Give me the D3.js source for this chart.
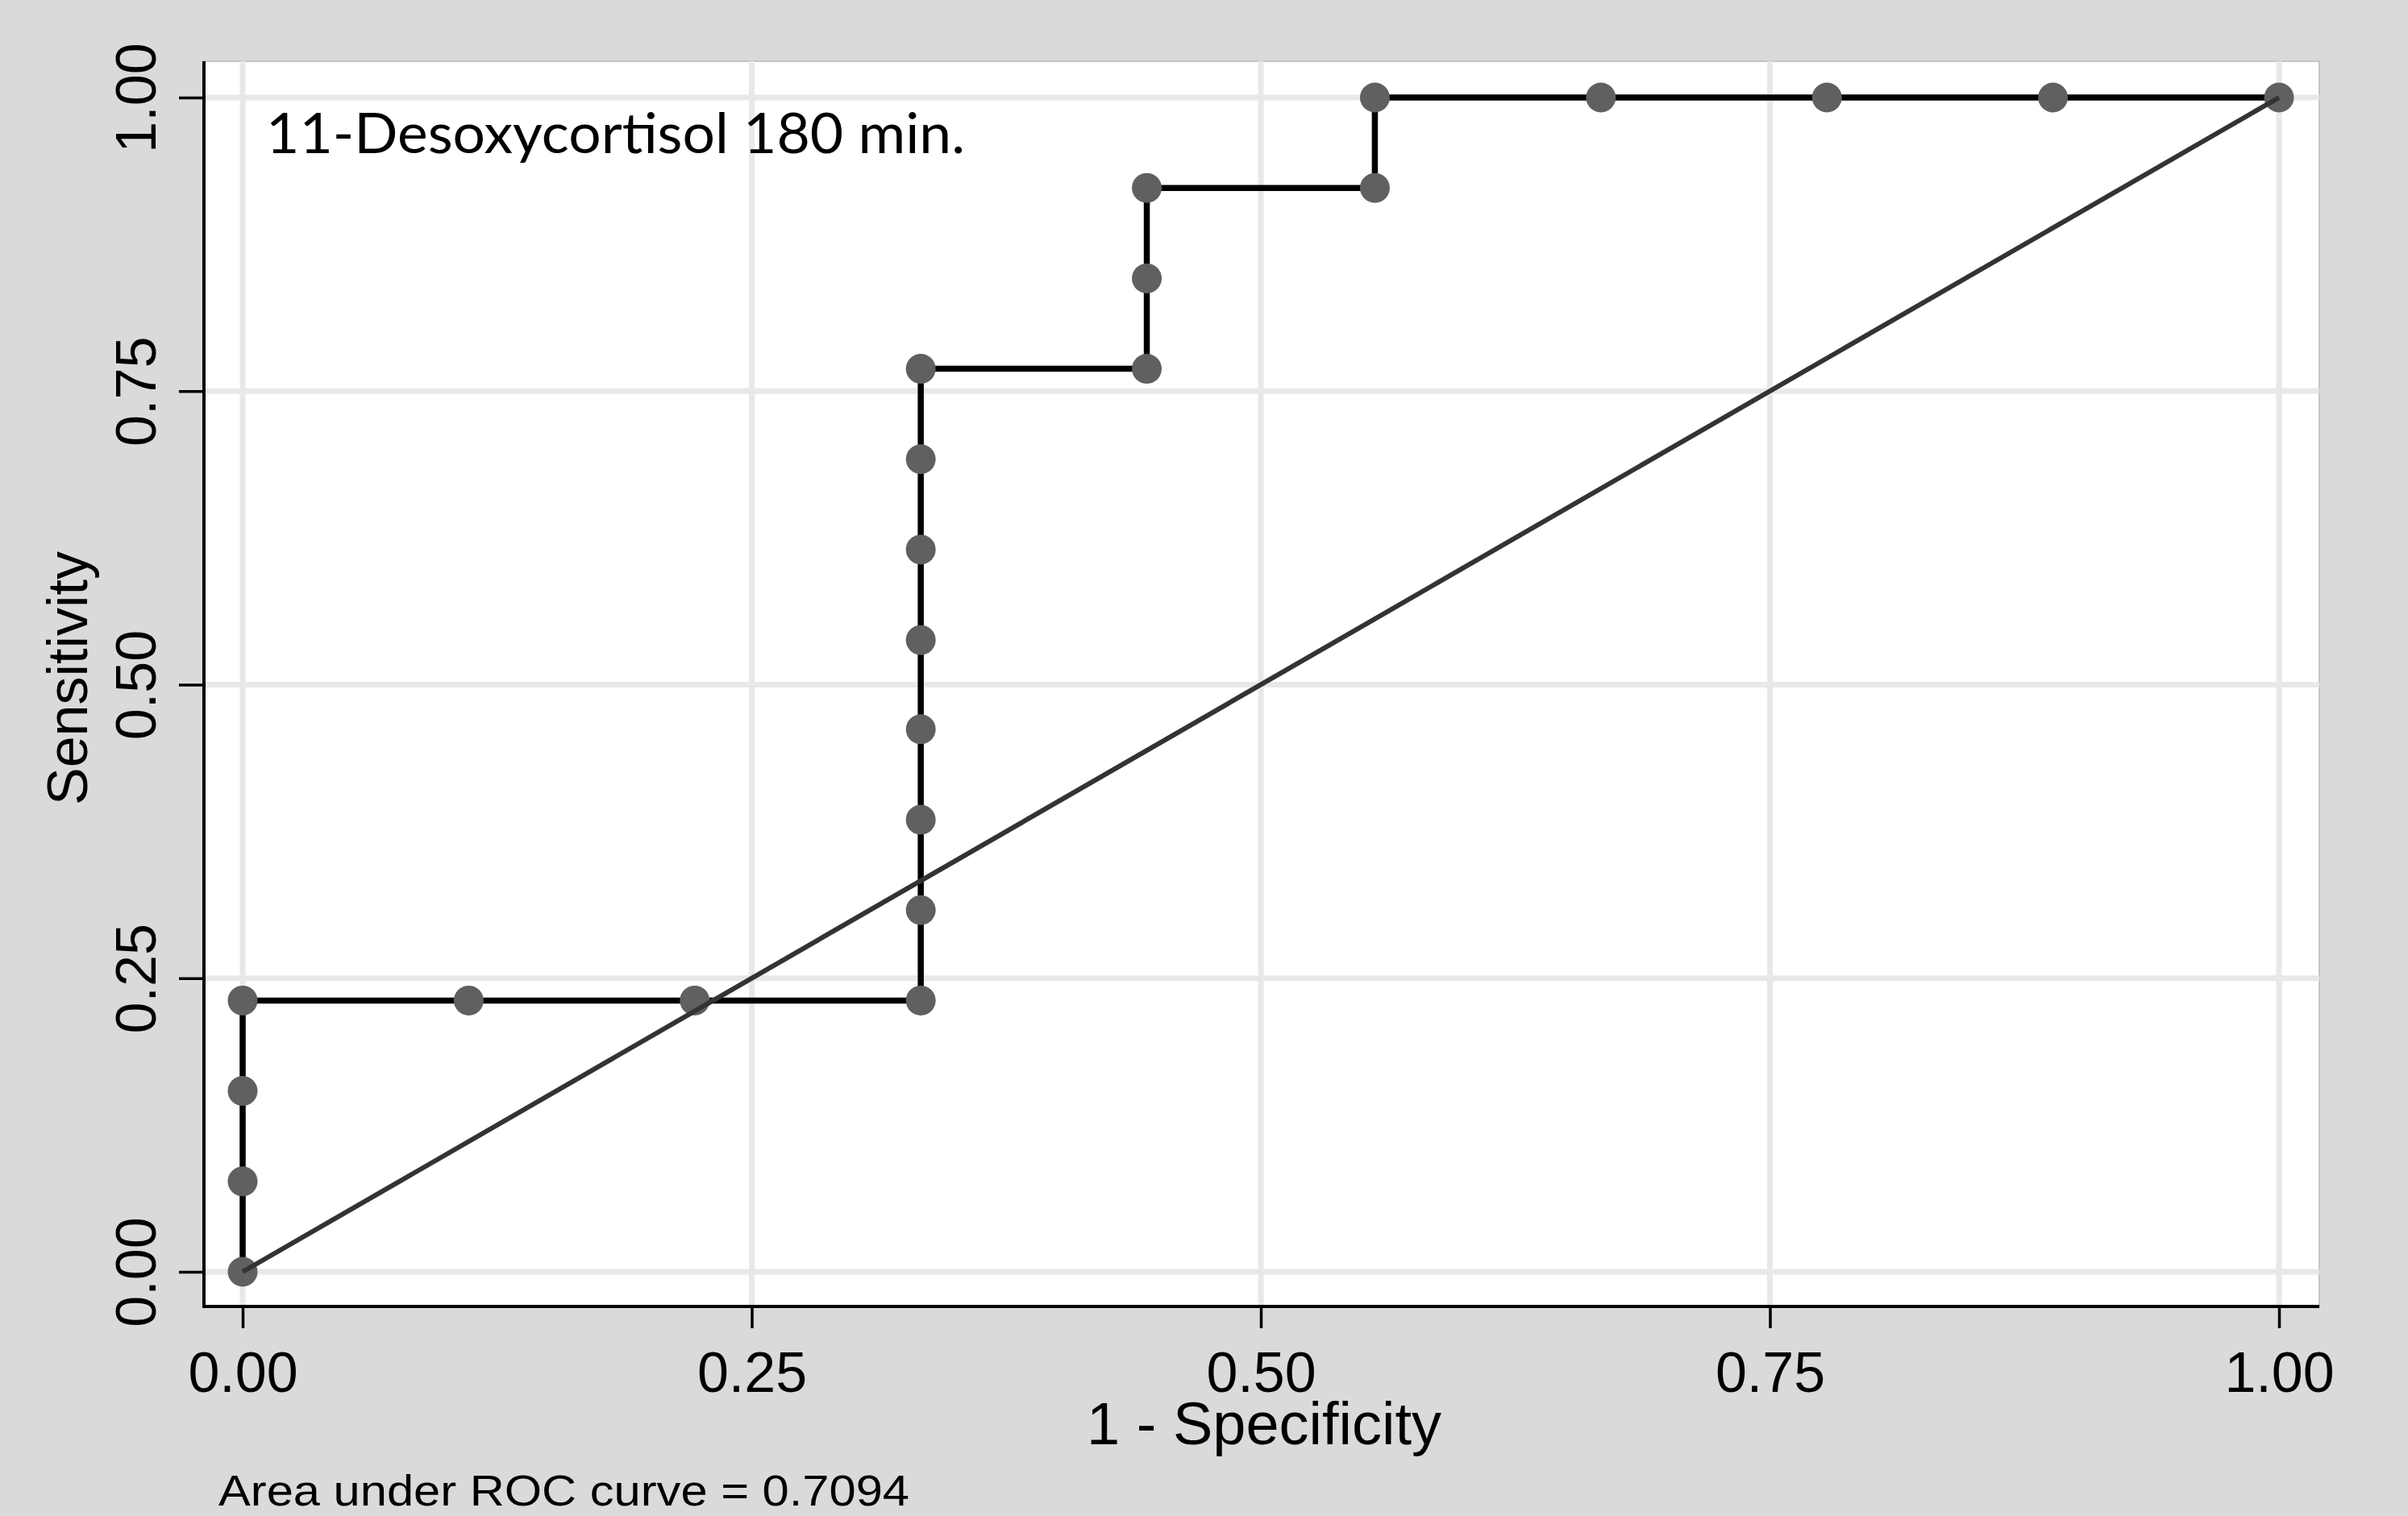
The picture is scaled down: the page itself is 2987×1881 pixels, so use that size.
<!DOCTYPE html>
<html>
<head>
<meta charset="utf-8">
<script src="https://cdn.jsdelivr.net/npm/d3@7"></script>
<style>
  body { margin: 0; background: #d9dadc; }
  svg { display: block; }
</style>
</head>
<body>
<div id="chart"></div>
<script>
// ROC points
var fpr = [0, 0, 0, 0, 0.111, 0.222, 0.333, 0.333, 0.333, 0.333, 0.333, 0.333, 0.333, 0.333,
           0.444, 0.444, 0.444, 0.556, 0.556, 0.667, 0.778, 0.889, 1];
var sens = [0, 0.077, 0.154, 0.231, 0.231, 0.231, 0.231, 0.308, 0.385, 0.462, 0.538, 0.615, 0.692, 0.769,
            0.769, 0.846, 0.923, 0.923, 1, 1, 1, 1, 1];
var refLine = [0, 1];
var xTicks = [0, 0.25, 0.5, 0.75, 1];
var yTicks = [0, 0.25, 0.5, 0.75, 1];
var titleText = "11-Desoxycortisol 180 min.";
var xLabel = "1 - Specificity";
var yLabel = "Sensitivity";
var noteText = "Area under ROC curve = 0.7094";

var width = 2987, height = 1881;
// plot frame
var frame = {left: 253, right: 2877, top: 76, bottom: 1621};

var x = d3.scaleLinear().domain([0, 1]).range([301, 2827]);
var y = d3.scaleLinear().domain([0, 1]).range([1578, 121]);
var fmt = d3.format(".2f");

var svg = d3.select("#chart").append("svg")
    .attr("width", width)
    .attr("height", height);

svg.append("rect")
    .attr("width", width).attr("height", height)
    .attr("fill", "#d9dadc");

svg.append("rect")
    .attr("x", frame.left).attr("y", frame.top)
    .attr("width", frame.right - frame.left)
    .attr("height", frame.bottom - frame.top)
    .attr("fill", "#ffffff")
    .attr("stroke", "#c4c4c4")
    .attr("stroke-width", 2);

// grid
var grid = svg.append("g");
grid.selectAll(".gx").data(xTicks).enter().append("line")
    .attr("x1", d => x(d)).attr("x2", d => x(d))
    .attr("y1", frame.top).attr("y2", frame.bottom)
    .attr("stroke", "#e8e8e8").attr("stroke-width", 7);
grid.selectAll(".gy").data(yTicks).enter().append("line")
    .attr("y1", d => y(d)).attr("y2", d => y(d))
    .attr("x1", frame.left).attr("x2", frame.right)
    .attr("stroke", "#e8e8e8").attr("stroke-width", 7);

// axes
var xAxis = d3.axisBottom(x).tickValues(xTicks).tickFormat(fmt).tickSize(27).tickSizeOuter(0);
var yAxis = d3.axisLeft(y).tickValues(yTicks).tickFormat(fmt).tickSize(31).tickSizeOuter(0);

var gx = svg.append("g").attr("transform", "translate(0," + frame.bottom + ")").call(xAxis);
gx.select(".domain").remove();
gx.selectAll(".tick line").attr("stroke", "#000").attr("stroke-width", 3.5);
gx.selectAll(".tick text")
    .attr("font-family", "Liberation Sans, Arial, sans-serif")
    .attr("font-size", 70).attr("fill", "#000")
    .attr("dy", null).attr("y", 106);

var gy = svg.append("g").attr("transform", "translate(" + frame.left + ",0)").call(yAxis);
gy.select(".domain").remove();
gy.selectAll(".tick line").attr("stroke", "#000").attr("stroke-width", 3.5);
gy.selectAll(".tick text")
    .attr("font-family", "Liberation Sans, Arial, sans-serif")
    .attr("font-size", 70).attr("fill", "#000")
    .attr("x", null).attr("dy", null)
    .attr("text-anchor", "middle")
    .attr("transform", "translate(-60,0) rotate(-90)");

svg.append("line")
    .attr("x1", frame.left).attr("x2", frame.left)
    .attr("y1", frame.top).attr("y2", frame.bottom + 2)
    .attr("stroke", "#000").attr("stroke-width", 4);
svg.append("line")
    .attr("x1", frame.left - 2).attr("x2", frame.right)
    .attr("y1", frame.bottom).attr("y2", frame.bottom)
    .attr("stroke", "#000").attr("stroke-width", 4);

// ROC curve
var pts = fpr.map((d, i) => [d, sens[i]]);
var line = d3.line().x(d => x(d[0])).y(d => y(d[1]));

svg.append("path")
    .datum(pts)
    .attr("d", line)
    .attr("fill", "none")
    .attr("stroke", "#000")
    .attr("stroke-width", 7.5)
    .attr("stroke-linejoin", "miter");

svg.append("g").selectAll("circle")
    .data(pts).enter().append("circle")
    .attr("cx", d => x(d[0]))
    .attr("cy", d => y(d[1]))
    .attr("r", 18.5)
    .attr("fill", "#606060");

// reference line
svg.append("path")
    .datum(refLine.map(d => [d, d]))
    .attr("d", line)
    .attr("fill", "none")
    .attr("stroke", "#333333")
    .attr("stroke-width", 6);

// texts
svg.append("text")
    .attr("x", 330).attr("y", 190)
    .attr("font-family", "Lato, 'Open Sans', sans-serif")
    .attr("font-size", 70)
    .attr("textLength", 867)
    .attr("lengthAdjust", "spacingAndGlyphs")
    .attr("fill", "#000")
    .text(titleText);

svg.append("text")
    .attr("x", (x(0) + x(1)) / 2 + 4).attr("y", 1792)
    .attr("text-anchor", "middle")
    .attr("font-family", "Liberation Sans, Arial, sans-serif")
    .attr("font-size", 74)
    .attr("fill", "#000")
    .text(xLabel);

svg.append("text")
    .attr("transform", "translate(108," + (y(0.5) - 8) + ") rotate(-90)")
    .attr("text-anchor", "middle")
    .attr("font-family", "Liberation Sans, Arial, sans-serif")
    .attr("font-size", 70)
    .attr("fill", "#000")
    .text(yLabel);

svg.append("text")
    .attr("x", 271).attr("y", 1868)
    .attr("font-family", "Liberation Sans, Arial, sans-serif")
    .attr("font-size", 54)
    .attr("textLength", 857)
    .attr("lengthAdjust", "spacingAndGlyphs")
    .attr("fill", "#000")
    .text(noteText);
</script>
</body>
</html>
